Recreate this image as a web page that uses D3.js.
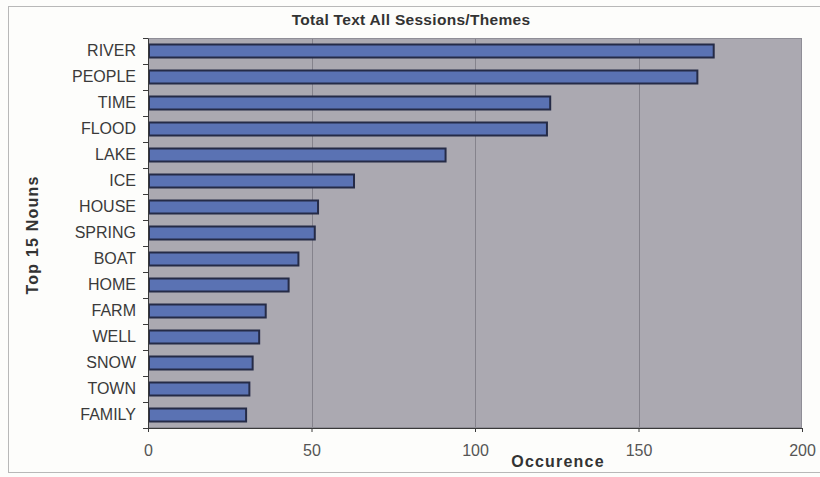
<!DOCTYPE html>
<html>
<head>
<meta charset="utf-8">
<script src="https://cdn.jsdelivr.net/npm/d3@7"></script>
<style>
  html, body { margin: 0; padding: 0; background: #fdfdfb; }
  svg { display: block; }
</style>
</head>
<body>
<svg id="chart" width="820" height="477"></svg>
<script>
// Top 15 nouns across all sessions and themes
const nouns = ["RIVER", "PEOPLE", "TIME", "FLOOD", "LAKE", "ICE", "HOUSE", "SPRING",
               "BOAT", "HOME", "FARM", "WELL", "SNOW", "TOWN", "FAMILY"];
const occurrences = [173, 168, 123, 122, 91, 63, 52, 51, 46, 43, 36, 34, 32, 31, 30];
const xTicks = [0, 50, 100, 150, 200];

const svg = d3.select("#chart");
const plot = { left: 148, right: 802, top: 38, bottom: 428 };
const FONT = "Liberation Sans, Arial, sans-serif";

// Outer frame
svg.append("rect")
  .attr("x", 8.5).attr("y", 6.5)
  .attr("width", 812).attr("height", 466)
  .attr("fill", "#fdfdfb")
  .attr("stroke", "#b8b8b8").attr("stroke-width", 1);

const x = d3.scaleLinear().domain([0, 200]).range([plot.left, plot.right]);
const y = d3.scaleBand().domain(nouns).range([plot.top, plot.bottom]).paddingInner(0.5).paddingOuter(0.25);
const yEdges = d3.scaleBand().domain(nouns).range([plot.top, plot.bottom]);

// Plot area background
svg.append("rect")
  .attr("x", plot.left).attr("y", plot.top)
  .attr("width", plot.right - plot.left).attr("height", plot.bottom - plot.top)
  .attr("fill", "#aba9b1");

// Vertical gridlines
svg.append("g")
  .selectAll("line")
  .data(xTicks.filter(t => t > 0 && t < 200))
  .join("line")
  .attr("x1", d => Math.round(x(d)) + 0.5).attr("x2", d => Math.round(x(d)) + 0.5)
  .attr("y1", plot.top).attr("y2", plot.bottom)
  .attr("stroke", "#85838c").attr("stroke-width", 1);

// Plot border
svg.append("rect")
  .attr("x", plot.left + 0.5).attr("y", plot.top + 0.5)
  .attr("width", plot.right - plot.left - 1).attr("height", plot.bottom - plot.top - 1)
  .attr("fill", "none")
  .attr("stroke", "#8f8e96").attr("stroke-width", 1);

// Bars
svg.append("g")
  .selectAll("rect")
  .data(nouns.map((n, i) => ({ n, v: occurrences[i] })))
  .join("rect")
  .attr("x", x(0) + 1)
  .attr("y", d => y(d.n))
  .attr("width", d => x(d.v) - x(0) - 1)
  .attr("height", y.bandwidth())
  .attr("fill", "#5a72b3")
  .attr("stroke", "#252b47")
  .attr("stroke-width", 2);

// Y axis
const yAxis = d3.axisLeft(yEdges).tickSize(0).tickPadding(12);
const gy = svg.append("g").attr("transform", `translate(${plot.left},0)`).call(yAxis);
gy.select(".domain").attr("stroke", "#3a3a3a");
gy.selectAll("text")
  .attr("font-family", FONT)
  .attr("font-size", 16).attr("fill", "#3a3a3a");
// Tick marks on category boundaries
svg.append("g")
  .selectAll("line")
  .data(nouns.concat(["_end"]))
  .join("line")
  .attr("x1", plot.left - 5).attr("x2", plot.left)
  .attr("y1", (d, i) => plot.top + i * yEdges.step() + 0.5)
  .attr("y2", (d, i) => plot.top + i * yEdges.step() + 0.5)
  .attr("stroke", "#3a3a3a");

// X axis
const xAxis = d3.axisBottom(x).tickValues(xTicks).tickSize(4).tickPadding(13);
const gx = svg.append("g").attr("transform", `translate(0,${plot.bottom})`).call(xAxis);
gx.select(".domain").attr("stroke", "#3a3a3a");
gx.selectAll(".tick line").attr("stroke", "#3a3a3a");
gx.selectAll("text")
  .attr("font-family", FONT)
  .attr("font-size", 16).attr("fill", "#555");

// Title
svg.append("text")
  .attr("x", 411).attr("y", 25)
  .attr("text-anchor", "middle")
  .attr("font-family", FONT)
  .attr("font-weight", "bold").attr("font-size", 15.5)
  .attr("letter-spacing", 0.3)
  .attr("fill", "#333")
  .text("Total Text All Sessions/Themes");

// Axis titles
svg.append("text")
  .attr("x", 558).attr("y", 467)
  .attr("text-anchor", "middle")
  .attr("font-family", FONT)
  .attr("font-weight", "bold").attr("font-size", 16)
  .attr("letter-spacing", 1.2)
  .attr("fill", "#333")
  .text("Occurence");

svg.append("text")
  .attr("transform", `translate(38,235) rotate(-90)`)
  .attr("text-anchor", "middle")
  .attr("font-family", FONT)
  .attr("font-weight", "bold").attr("font-size", 16)
  .attr("letter-spacing", 1.2)
  .attr("fill", "#333")
  .text("Top 15 Nouns");
</script>
</body>
</html>
